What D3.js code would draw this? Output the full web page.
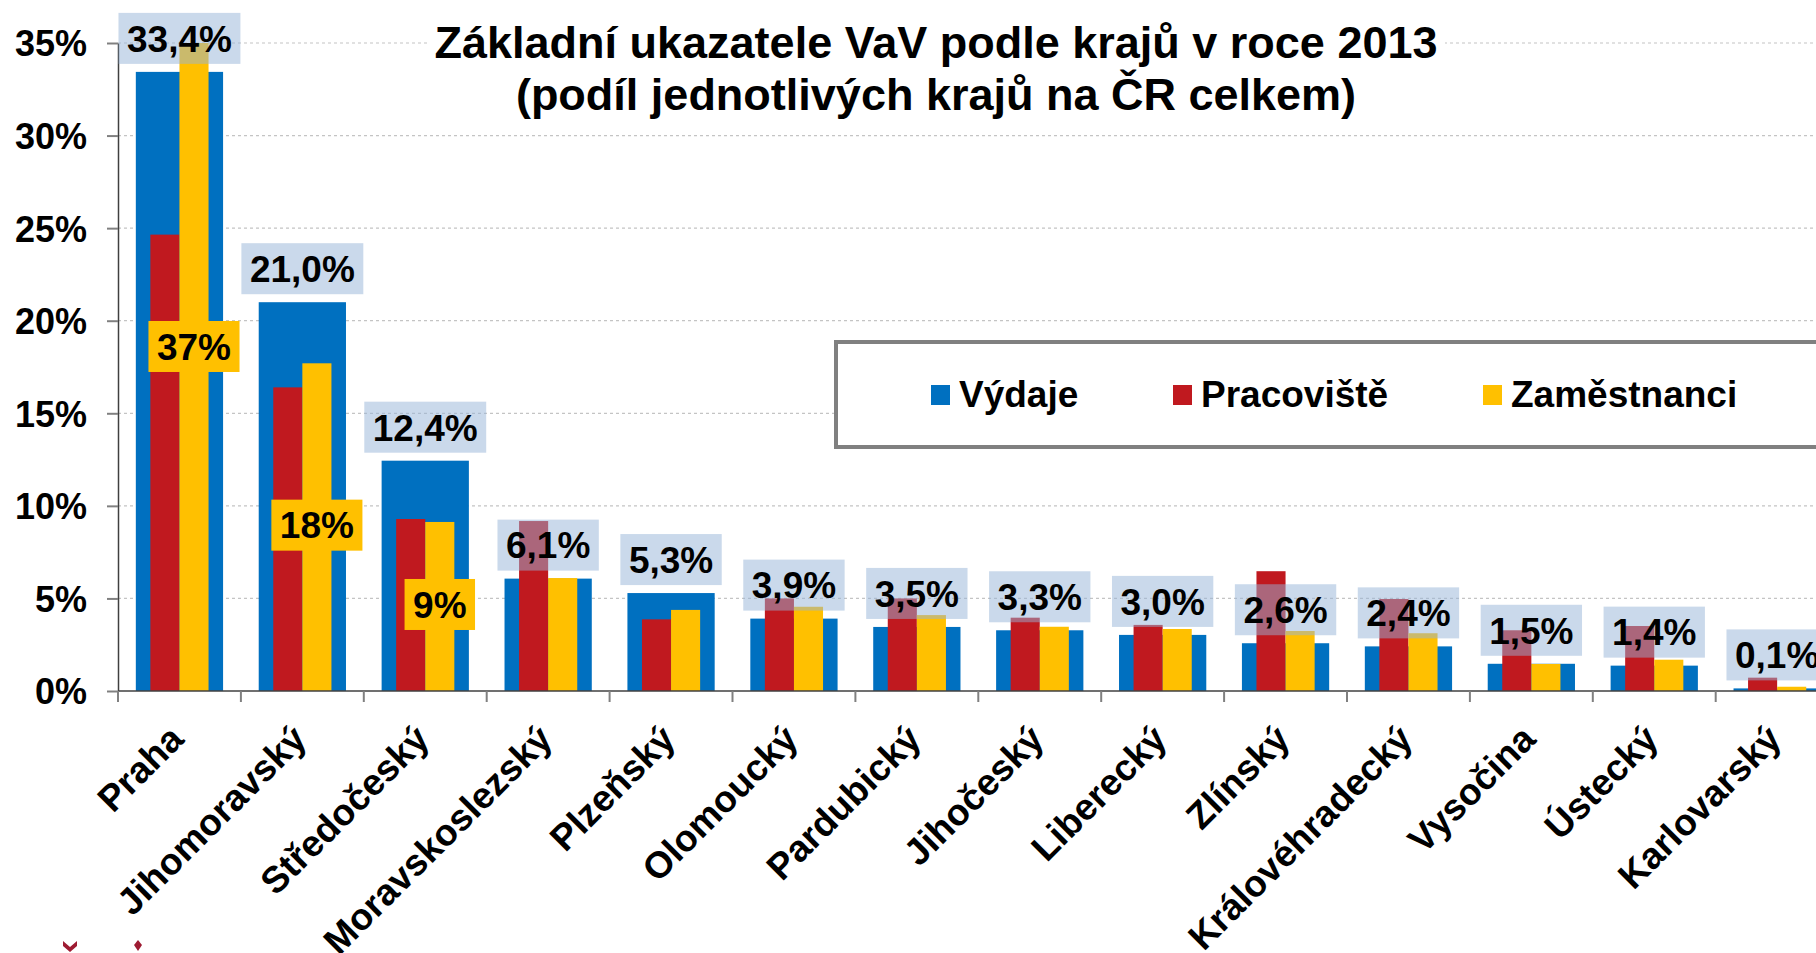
<!DOCTYPE html>
<html>
<head>
<meta charset="utf-8">
<script src="https://cdn.jsdelivr.net/npm/d3@7"></script>
<style>
  body { margin: 0; background: #fff; }
  text { font-family: "Liberation Sans", Arial, sans-serif; font-weight: bold; fill: #000; }
</style>
</head>
<body>
<script>
// Data (share of each region on the whole country, %)
var kraje = ["Praha", "Jihomoravský", "Středočeský", "Moravskoslezský", "Plzeňský",
  "Olomoucký", "Pardubický", "Jihočeský", "Liberecký", "Zlínský",
  "Královéhradecký", "Vysočina", "Ústecký", "Karlovarský"];
var vydaje = [33.44, 21.0, 12.44, 6.07, 5.29, 3.91, 3.46, 3.28, 3.03, 2.58, 2.41, 1.47, 1.37, 0.14];
var pracoviste = [24.65, 16.4, 9.29, 9.18, 3.87, 5.0, 5.0, 3.96, 3.57, 6.47, 4.97, 3.28, 3.51, 0.72];
var zamestnanci = [37.0, 17.7, 9.13, 6.1, 4.38, 4.55, 4.1, 3.47, 3.35, 3.24, 3.12, 1.46, 1.69, 0.23];
var yTicks = [0, 5, 10, 15, 20, 25, 30, 35];
var legendLabels = ["Výdaje", "Pracoviště", "Zaměstnanci"];
var titleLines = ["Základní ukazatele VaV podle krajů v roce 2013",
  "(podíl jednotlivých krajů na ČR celkem)"];

var colors = ["#0070c0", "#c0191f", "#ffc000"];

var width = 1816;
var height = 953;
var plotLeft = 118;
var plotBottom = 691;
var plotTop = 43;
var step = 122.9;

var svg = d3.select("body").append("svg")
  .attr("width", width)
  .attr("height", height);

// Scales
var xScale = d3.scaleBand()
  .domain(kraje)
  .range([plotLeft, plotLeft + step * kraje.length]);
var yScale = d3.scaleLinear()
  .domain([0, 35])
  .range([plotBottom, plotTop]);

var blueW = xScale.bandwidth() * 0.71;
var subScale = d3.scaleBand()
  .domain(["Pracoviště", "Zaměstnanci"])
  .range([-blueW / 3, blueW / 3]);

// Gridlines
svg.append("g")
  .selectAll("line")
  .data(yTicks.slice(1))
  .enter()
  .append("line")
  .attr("x1", plotLeft)
  .attr("x2", width)
  .attr("y1", function(d) { return yScale(d); })
  .attr("y2", function(d) { return yScale(d); })
  .attr("stroke", "#c4c4c4")
  .attr("stroke-width", 1.2)
  .attr("stroke-dasharray", "3,3");

// Title background (hides the 35% gridline)
svg.append("rect")
  .attr("x", 428).attr("y", 14)
  .attr("width", 1017).attr("height", 60)
  .attr("fill", "#fff");

// Bars
var center = function(d) { return xScale(d) + xScale.bandwidth() / 2; };

svg.append("g")
  .selectAll("rect")
  .data(kraje)
  .enter()
  .append("rect")
  .attr("x", function(d) { return center(d) - blueW / 2; })
  .attr("width", blueW)
  .attr("y", function(d, i) { return yScale(vydaje[i]); })
  .attr("height", function(d, i) { return plotBottom - yScale(vydaje[i]); })
  .attr("fill", colors[0]);

svg.append("g")
  .selectAll("rect")
  .data(kraje)
  .enter()
  .append("rect")
  .attr("x", function(d) { return center(d) + subScale("Pracoviště"); })
  .attr("width", subScale.bandwidth())
  .attr("y", function(d, i) { return yScale(pracoviste[i]); })
  .attr("height", function(d, i) { return plotBottom - yScale(pracoviste[i]); })
  .attr("fill", colors[1]);

svg.append("g")
  .selectAll("rect")
  .data(kraje)
  .enter()
  .append("rect")
  .attr("x", function(d) { return center(d) + subScale("Zaměstnanci"); })
  .attr("width", subScale.bandwidth())
  .attr("y", function(d, i) { return yScale(Math.min(zamestnanci[i], 35)); })
  .attr("height", function(d, i) { return plotBottom - yScale(Math.min(zamestnanci[i], 35)); })
  .attr("fill", colors[2]);

// Y axis
var yAxis = d3.axisLeft(yScale)
  .tickValues(yTicks)
  .tickFormat(function(d) { return d + "%"; })
  .tickSize(11)
  .tickSizeOuter(0)
  .tickPadding(20);

var yg = svg.append("g")
  .attr("transform", "translate(" + plotLeft + ",0)")
  .call(yAxis);
yg.select(".domain").attr("stroke", "#404040").attr("stroke-width", 1.5);
yg.selectAll(".tick line").attr("stroke", "#808080").attr("stroke-width", 2);
yg.selectAll(".tick text")
  .attr("font-size", 36)
  .attr("font-family", "Liberation Sans, Arial, sans-serif")
  .attr("font-weight", "bold")
  .attr("dy", "0.36em")
  .attr("fill", "#000");

// X axis
svg.append("line")
  .attr("x1", plotLeft).attr("x2", width)
  .attr("y1", plotBottom).attr("y2", plotBottom)
  .attr("stroke", "#404040").attr("stroke-width", 1.5);

svg.append("g")
  .selectAll("line")
  .data(kraje)
  .enter()
  .append("line")
  .attr("x1", function(d) { return xScale(d); })
  .attr("x2", function(d) { return xScale(d); })
  .attr("y1", plotBottom)
  .attr("y2", plotBottom + 11)
  .attr("stroke", "#808080")
  .attr("stroke-width", 2);

svg.append("g")
  .selectAll("text")
  .data(kraje)
  .enter()
  .append("text")
  .attr("text-anchor", "end")
  .attr("font-size", 37)
  .attr("dy", "0.35em")
  .attr("transform", function(d) {
    return "translate(" + (center(d) - 3) + "," + 732 + ") rotate(-45)";
  })
  .text(function(d) { return d; });

// Labels for Výdaje (semi transparent boxes)
var fmt1 = function(v) { return d3.format(".1f")(v).replace(".", ",") + "%"; };

var blueLabels = svg.append("g")
  .selectAll("g")
  .data(kraje)
  .enter()
  .append("g")
  .attr("transform", function(d, i) {
    return "translate(" + center(d) + "," + (yScale(vydaje[i]) - 8 - 25.5) + ")";
  });

blueLabels.append("rect")
  .attr("fill", "#95b3d7")
  .attr("fill-opacity", 0.5);

blueLabels.append("text")
  .attr("text-anchor", "middle")
  .attr("font-size", 37)
  .attr("dy", "0.36em")
  .text(function(d, i) { return fmt1(vydaje[i]); });

blueLabels.each(function() {
  var g = d3.select(this);
  var w = g.select("text").node().getComputedTextLength() + 17;
  g.select("rect")
    .attr("x", -w / 2).attr("width", w)
    .attr("y", -25.5).attr("height", 51);
});

// Labels for Zaměstnanci (top three regions)
var yellowLabels = svg.append("g")
  .selectAll("g")
  .data(kraje.slice(0, 3))
  .enter()
  .append("g")
  .attr("transform", function(d, i) {
    var x = center(d) + subScale("Zaměstnanci") + subScale.bandwidth() / 2;
    return "translate(" + x + "," + (yScale(zamestnanci[i] / 2) - 2) + ")";
  });

yellowLabels.append("rect")
  .attr("fill", colors[2]);

yellowLabels.append("text")
  .attr("text-anchor", "middle")
  .attr("font-size", 37)
  .attr("dy", "0.36em")
  .text(function(d, i) { return d3.format(".0f")(zamestnanci[i]) + "%"; });

yellowLabels.each(function() {
  var g = d3.select(this);
  var w = g.select("text").node().getComputedTextLength() + 17;
  g.select("rect")
    .attr("x", -w / 2).attr("width", w)
    .attr("y", -25.5).attr("height", 51);
});

// Legend
svg.append("rect")
  .attr("x", 836).attr("y", 342)
  .attr("width", 1100).attr("height", 105)
  .attr("fill", "#fff")
  .attr("stroke", "#808080")
  .attr("stroke-width", 4);

var legendX = [931, 1173, 1483];
var legend = svg.selectAll(".legend")
  .data(legendLabels)
  .enter()
  .append("g")
  .attr("class", "legend")
  .attr("transform", function(d, i) { return "translate(" + legendX[i] + ",385)"; });

legend.append("rect")
  .attr("width", 19)
  .attr("height", 20)
  .attr("fill", function(d, i) { return colors[i]; });

legend.append("text")
  .attr("x", 28)
  .attr("y", 22)
  .attr("font-size", 37)
  .text(function(d) { return d; });

// Title
svg.append("g")
  .selectAll("text")
  .data(titleLines)
  .enter()
  .append("text")
  .attr("x", 936)
  .attr("y", function(d, i) { return 58 + i * 52; })
  .attr("text-anchor", "middle")
  .attr("font-size", 45)
  .text(function(d) { return d; });

// Cropped logo fragments at the bottom edge
svg.append("path")
  .attr("d", "M63,941 L70,947 L77,941 L77,946 L70,952 L63,946 Z")
  .attr("fill", "#9e1b32");
svg.append("path")
  .attr("d", "M138,940 L142,945 L138,951 L134,945 Z")
  .attr("fill", "#9e1b32");
</script>
</body>
</html>
